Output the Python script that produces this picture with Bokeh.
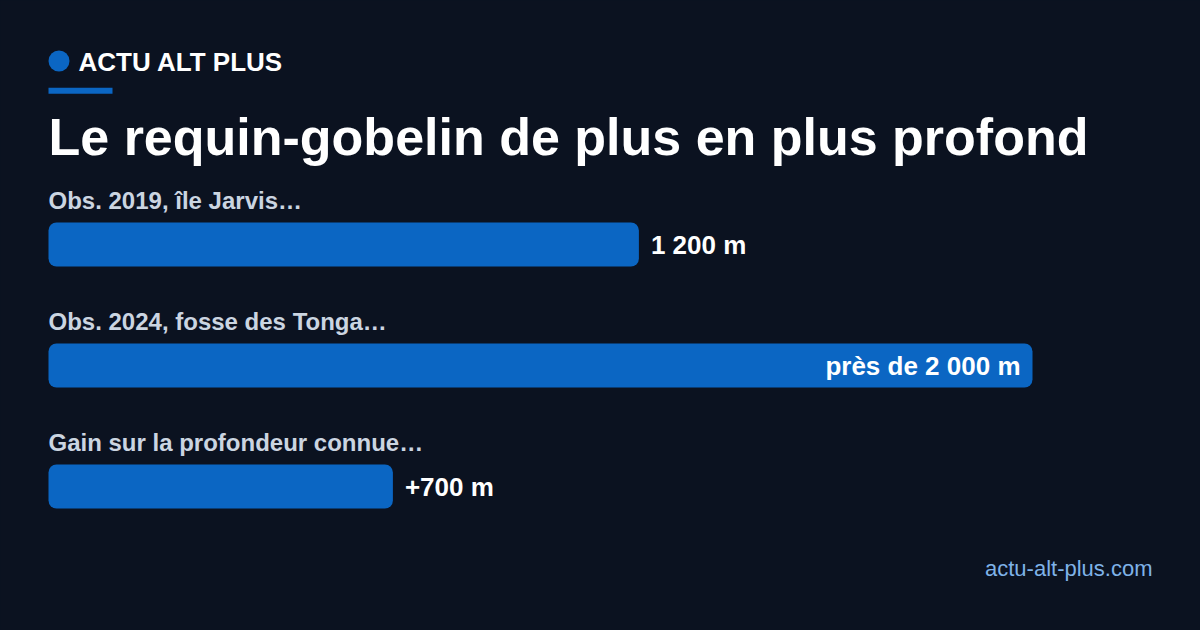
from bokeh.plotting import figure
from bokeh.models import Range1d, Label, ColumnDataSource
from bokeh.core.properties import value
from bokeh.embed import file_html
from bokeh.resources import INLINE

# ---- data ----
categories = ["Obs. 2019, île Jarvis…", "Obs. 2024, fosse des Tonga…", "Gain sur la profondeur connue…"]
depths_m = [1200, 2000, 700]
value_labels = ["1 200 m", "près de 2 000 m", "+700 m"]
brand = "ACTU ALT PLUS"
title = "Le requin-gobelin de plus en plus profond"
source_url = "actu-alt-plus.com"

# ---- style / layout ----
BG = "#0b1220"
BAR = "#0b66c3"
LABEL = "#cbd5e1"
URL = "#7fb2e8"
FONT = "Liberation Sans"
W, H = 1200, 630
LEFT = 48            # px where 0 m sits
PX_PER_M = 0.492
ROW0, ROW_STEP, BAR_H = 244, 121, 44
BASE_SHIFT = 0.4     # svg text baseline correction, in em


def base(y, size):
    return y - BASE_SHIFT * size


p = figure(width=W, height=H, output_backend="svg", toolbar_location=None,
           x_range=Range1d(-LEFT / PX_PER_M, (W - LEFT) / PX_PER_M),
           y_range=Range1d(H, 0), x_axis_type=None, y_axis_type=None,
           min_border=0, min_border_left=0, min_border_right=0,
           min_border_top=0, min_border_bottom=0)
p.extra_x_ranges = {"px": Range1d(0, W)}
p.background_fill_color = BG
p.border_fill_color = BG
p.outline_line_color = None
p.grid.visible = False

rows = [ROW0 + i * ROW_STEP for i in range(len(categories))]
vmax = max(depths_m)
inside = [v == vmax for v in depths_m]

src = ColumnDataSource(dict(
    y=rows, v=depths_m, cat=categories,
    cat_y=[base(r - BAR_H / 2 - 12, 24) for r in rows],
))
p.hbar(y="y", left=0, right="v", height=BAR_H, source=src, fill_color=BAR,
       line_color=None, border_radius=8)

p.text(x=0, y="cat_y", text="cat", source=src, text_font=value(FONT),
       text_font_style="bold", text_font_size="24px", text_color=LABEL,
       text_baseline="alphabetic", text_align="left")

out_idx = [i for i in range(len(depths_m)) if not inside[i]]
in_idx = [i for i in range(len(depths_m)) if inside[i]]
p.text(x=[depths_m[i] for i in out_idx], y=[base(rows[i] + 11, 26) for i in out_idx],
       text=[value_labels[i] for i in out_idx], x_offset=12,
       text_font=value(FONT), text_font_style="bold", text_font_size="26px",
       text_color="#ffffff", text_baseline="alphabetic", text_align="left")
p.text(x=[depths_m[i] for i in in_idx], y=[base(rows[i] + 10.5, 26) for i in in_idx],
       text=[value_labels[i] for i in in_idx], x_offset=-12,
       text_font=value(FONT), text_font_style="bold", text_font_size="26px",
       text_color="#ffffff", text_baseline="alphabetic", text_align="right")

# header decorations
p.circle(x=[58.5], y=[60.5], radius=10.5, x_range_name="px",
         fill_color=BAR, line_color=None)
p.quad(left=[48], right=[112], top=[87.3], bottom=[93.3], x_range_name="px",
       fill_color=BAR, line_color=None)
p.add_layout(Label(x=78, y=base(72, 26), x_range_name="px", text=brand,
                   text_font=FONT, text_font_style="bold", text_font_size="26px",
                   text_color="#ffffff", text_baseline="alphabetic"))
p.add_layout(Label(x=48, y=base(157, 52), x_range_name="px", text=title,
                   text_font=FONT, text_font_style="bold", text_font_size="52px",
                   text_color="#ffffff", text_baseline="alphabetic"))
p.add_layout(Label(x=1152, y=base(577, 22), x_range_name="px", text=source_url,
                   text_font=FONT, text_font_size="22px", text_color=URL,
                   text_align="right", text_baseline="alphabetic"))

html = file_html(p, INLINE, title="Le requin-gobelin")
html = html.replace("<head>", "<head><style>html,body{background:%s;}</style>" % BG, 1)
open("out.html", "w").write(html)
